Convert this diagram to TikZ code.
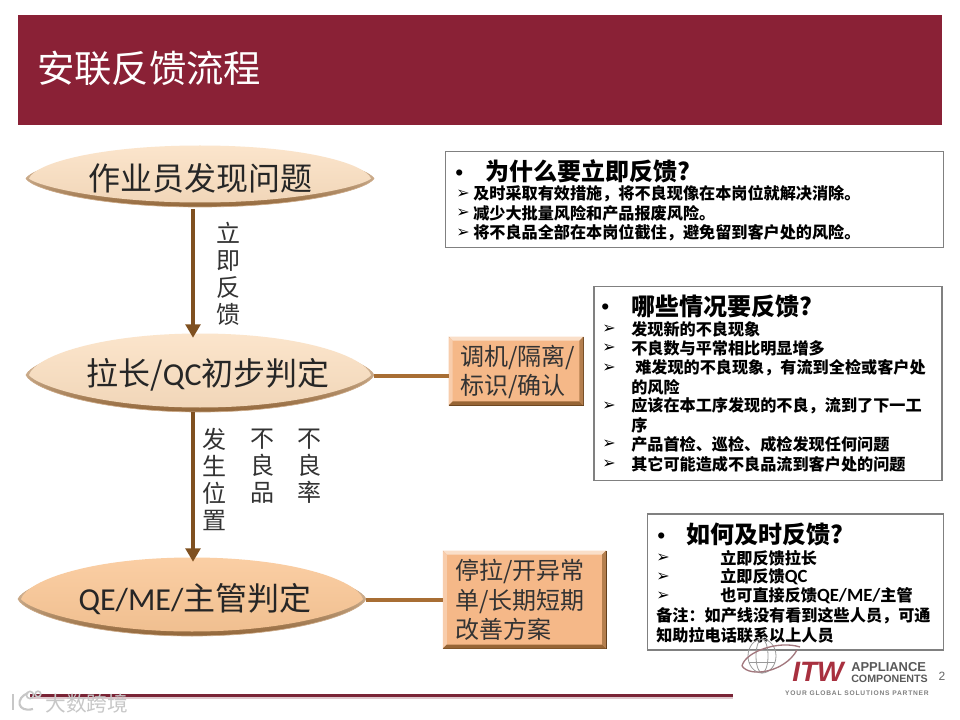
\documentclass[tikz,border=0pt]{standalone}
\usepackage{fontspec}
\usetikzlibrary{shapes.geometric,calc,arrows.meta}
\setmainfont{Noto Sans CJK SC}
\newfontfamily\latf{Carlito}
\newfontfamily\symf{DejaVu Sans}
\newfontfamily\arialf{Liberation Sans}
\newfontfamily\tagf[LetterSpace=12]{Liberation Sans}
\definecolor{barred}{HTML}{8A2136}
\definecolor{footred}{HTML}{7A2436}
\definecolor{arrowbrown}{HTML}{7F5020}
\definecolor{connbrown}{HTML}{A86E34}
\definecolor{boxgray}{HTML}{808080}
\definecolor{paleface}{HTML}{FBE2C6}
\definecolor{deepface}{HTML}{FAC99A}
\definecolor{boxface}{HTML}{F5B888}
\definecolor{itwred}{HTML}{A8303F}
\newcommand{\mk}{{\symf\fontsize{12}{12}\selectfont ➢}}
\newcommand{\dotmk}{{\arialf\fontsize{17}{17}\selectfont •}}
\newcommand{\lensrim}[2]{(-#1,0) .. controls (-.96*#1,-.4*#2) and (-.58*#1,-#2) .. (0,-#2) .. controls (.58*#1,-#2) and (.96*#1,-.4*#2) .. (#1,0) .. controls (.96*#1,.4*#2) and (.58*#1,#2) .. (0,#2) .. controls (-.58*#1,#2) and (-.96*#1,.4*#2) .. (-#1,0) -- cycle}
\newcommand{\lensshape}[5]{% cx, cy, half height, face colour, rim colour
  \begin{scope}[shift={(#1,#2)}]
    \path[top color=#5!70!white,bottom color=arrowbrown!85!#5,draw=connbrown!60!white,line width=.5pt] \lensrim{174}{#3};
    \path[top color=#4!90!white,bottom color=#4!92!arrowbrown] \lensrim{171}{#3-4.5};
  \end{scope}}
\newcommand{\bevel}[1]{%
\fill[white!55!boxface] (#1.north west) -- (#1.north east) -- ($(#1.north east)+(-4,4)$) -- ($(#1.north west)+(4,4)$) -- cycle;
\fill[white!30!boxface] (#1.north west) -- (#1.south west) -- ($(#1.south west)+(4,-4)$) -- ($(#1.north west)+(4,4)$) -- cycle;
\fill[arrowbrown!80!boxface] (#1.south west) -- (#1.south east) -- ($(#1.south east)+(-4,-4)$) -- ($(#1.south west)+(4,-4)$) -- cycle;
\fill[arrowbrown!55!boxface] (#1.north east) -- (#1.south east) -- ($(#1.south east)+(-4,-4)$) -- ($(#1.north east)+(-4,4)$) -- cycle;}
\tikzset{
  x=.75pt,y=-.75pt,
  oval/.style={ellipse,minimum width=261pt,minimum height=#1,inner sep=0pt},
  ovaltext/.style={inner sep=0pt,font=\fontsize{24}{28}\selectfont,text=black!85},
  infobox/.style={draw=boxgray,line width=.8pt,fill=white,inner sep=0pt},
  headtext/.style={anchor=west,inner sep=0pt,font=\bfseries\fontsize{18}{21}\selectfont},
  itemtext/.style={anchor=west,inner sep=0pt,font=\bfseries\fontsize{12.1}{14.4}\selectfont},
  marker/.style={anchor=west,inner sep=0pt},
  vlabel/.style={inner sep=0pt,align=center,text=black!80,font=\fontsize{18}{20.25}\selectfont},
  boxtext/.style={anchor=west,inner sep=0pt,align=left,text=black!80},
  flowarrow/.style={draw=arrowbrown,line width=3pt,-{Triangle[length=10pt,width=11pt]}},
  sideline/.style={draw=connbrown,line width=2.4pt},
  bevelbox/.style={fill=boxface,draw=arrowbrown!70!black,line width=.5pt,inner sep=0pt},
}
\begin{document}
\begin{tikzpicture}
\useasboundingbox (0,0) rectangle (960,720);
\fill[white] (0,0) rectangle (960,720);
% title bar
\node[fill=barred,minimum width=693pt,minimum height=82.5pt,inner sep=0pt] (bar) at (480,70) {};
\node[anchor=west,inner sep=0pt,text=white,font=\fontsize{28}{32}\selectfont] (title) at (37,68) {安联反馈流程};

% ovals
\lensshape{200}{178.5}{28.5}{paleface}{paleface}
\node[oval=43pt] (e1) at (200,178.5) {};
\node[ovaltext] (e1t) at (200,178) {作业员发现问题};
\lensshape{200}{375}{37}{paleface}{paleface}
\node[oval=55.5pt] (e2) at (200,375) {};
\node[ovaltext] (e2t) at (208,375) {拉长/{\latf QC}初步判定};
\lensshape{192}{599}{37}{deepface}{paleface}
\node[oval=55.5pt] (e3) at (192,599) {};
\node[ovaltext] (e3t) at (195,599) {{\latf QE/ME/}主管判定};

% arrows
\draw[flowarrow] ([xshift=-5.25pt,yshift=-1pt]e1.south) -- ([xshift=-5.25pt]e2.north);
\draw[flowarrow] ([xshift=-5.25pt]e2.south) -- ([xshift=.75pt]e3.north);

% vertical labels
\node[vlabel] (l1) at (228,274) {立\\即\\反\\馈};
\node[vlabel] (l2) at (214,479) {发\\生\\位\\置};
\node[vlabel] (l3) at (262,466) {不\\良\\品};
\node[vlabel] (l4) at (309,466) {不\\良\\率};

% action boxes
\node[bevelbox,minimum width=100.5pt,minimum height=51pt] (ba) at (516,371) {};
\bevel{ba}
\node[boxtext,font=\fontsize{18}{21.75}\selectfont] (bat) at (460,372) {调机/隔离/\\标识/确认};

\node[bevelbox,minimum width=122pt,minimum height=73pt] (bb) at (524.5,599.5) {};
\bevel{bb}
\node[boxtext,font=\fontsize{18}{22}\selectfont] (bbt) at (455,600) {停拉/开异常\\单/长期短期\\改善方案};

% side connectors
\draw[sideline] ([yshift=-.75pt]e2.east) -- ([yshift=-.75pt]e2.east -| ba.west);
\draw[sideline] ([yshift=-.75pt]e3.east) -- ([yshift=-.75pt]e3.east -| bb.west);

% info box 1
\node[infobox,minimum width=374pt,minimum height=72.5pt] (i1) at (694.5,199.5) {};
\node[marker] (i1d) at (455,175) {\dotmk};
\node[headtext] (i1h) at (485,171) {为什么要立即反馈?};
\node[marker] (i1m1) at (456,194) {\mk};
\node[itemtext] (i1a) at (473,194) {及时采取有效措施，将不良现像在本岗位就解决消除。};
\node[marker] (i1m2) at (456,213) {\mk};
\node[itemtext] (i1b) at (473,213) {减少大批量风险和产品报废风险。};
\node[marker] (i1m3) at (456,233) {\mk};
\node[itemtext] (i1c) at (473,233) {将不良品全部在本岗位截住，避免留到客户处的风险。};

% info box 2
\node[infobox,minimum width=261pt,minimum height=146pt] (i2) at (768,383.5) {};
\node[marker] (i2d) at (601,309) {\dotmk};
\node[headtext] (i2h) at (631,306) {哪些情况要反馈?};
\node[marker] (i2m1) at (602,329) {\mk};
\node[itemtext] (i2a) at (631,329) {发现新的不良现象};
\node[marker] (i2m2) at (602,348) {\mk};
\node[itemtext] (i2b) at (631,348) {不良数与平常相比明显增多};
\node[marker] (i2m3) at (602,368) {\mk};
\node[itemtext] (i2c) at (635,368) {难发现的不良现象，有流到全检或客户处};
\node[itemtext] (i2c2) at (631,387) {的风险};
\node[marker] (i2m4) at (602,406) {\mk};
\node[itemtext] (i2e) at (631,406) {应该在本工序发现的不良，流到了下一工};
\node[itemtext] (i2e2) at (631,425) {序};
\node[marker] (i2m5) at (602,444) {\mk};
\node[itemtext] (i2f) at (631,444) {产品首检、巡检、成检发现任何问题};
\node[marker] (i2m6) at (602,464) {\mk};
\node[itemtext] (i2g) at (631,464) {其它可能造成不良品流到客户处的问题};

% info box 3
\node[infobox,minimum width=222.5pt,minimum height=102pt] (i3) at (795.5,582) {};
\node[marker] (i3d) at (657,538) {\dotmk};
\node[headtext] (i3h) at (686,534) {如何及时反馈?};
\node[marker] (i3m1) at (656,558) {\mk};
\node[itemtext] (i3a) at (720,558) {立即反馈拉长};
\node[marker] (i3m2) at (656,577) {\mk};
\node[itemtext] (i3b) at (720,577) {立即反馈{\latf\bfseries\fontsize{14}{14}\selectfont QC}};
\node[marker] (i3m3) at (656,596) {\mk};
\node[itemtext] (i3c) at (720,596) {也可直接反馈{\latf\bfseries\fontsize{14}{14}\selectfont QE/ME/}主管};
\node[itemtext] (i3e) at (656,616) {备注：如产线没有看到这些人员，可通};
\node[itemtext] (i3f) at (656,635) {知助拉电话联系以上人员};

% footer
\fill[footred] (30,694) rectangle (733,697);
\fill[footred!25!white] (30,697) rectangle (733,698.5);

% globe of the logo
\begin{scope}[draw=black!40,line width=.6pt]
\draw (762,656) ellipse [x radius=6,y radius=17];
\draw (762,656) ellipse [x radius=14,y radius=17];
\draw (748,650) -- (776,650);
\draw (749,662) -- (775,662);
\end{scope}
\draw[itwred!60!black!60!white,line width=1pt] (742,666) .. controls (745,652) and (778,640) .. (800,647);
\draw[itwred!60!black!60!white,line width=1pt] (742,666) .. controls (750,678) and (785,672) .. (797,650);

% logo text
\node[inner sep=0pt,text=itwred,font=\arialf\bfseries\itshape\fontsize{21}{22}\selectfont] (itw) at (818,672) {ITW};
\node[anchor=west,inner sep=0pt,text=black!65,font=\arialf\bfseries\fontsize{9.7}{11}\selectfont] (ap) at (851,667) {APPLIANCE};
\node[anchor=west,inner sep=0pt,text=black!65,font=\arialf\bfseries\fontsize{8}{9}\selectfont] (co) at (851,678.5) {COMPONENTS};
\node[inner sep=0pt,text=black!50,font=\tagf\bfseries\fontsize{5}{6}\selectfont] (tag) at (857,693) {YOUR GLOBAL SOLUTIONS PARTNER};
\node[inner sep=0pt,text=black!60,font=\arialf\fontsize{9}{10}\selectfont] (pg) at (942,676) {2};

% watermark
\node[inner sep=0pt,text=black!22,font=\fontsize{15.5}{17}\selectfont] (wm) at (87,704) {大数跨境};
\draw[black!22,line width=1.6pt] (13,694) -- (13,710);
\draw[black!22,line width=1.6pt] (28,693) .. controls (15,698) and (17,713) .. (33,709);
\draw[black!22,line width=1.2pt] (30,695) circle (3.6);
\draw[black!22,line width=1.2pt] (38,694) circle (2.8);
\end{tikzpicture}
\end{document}
